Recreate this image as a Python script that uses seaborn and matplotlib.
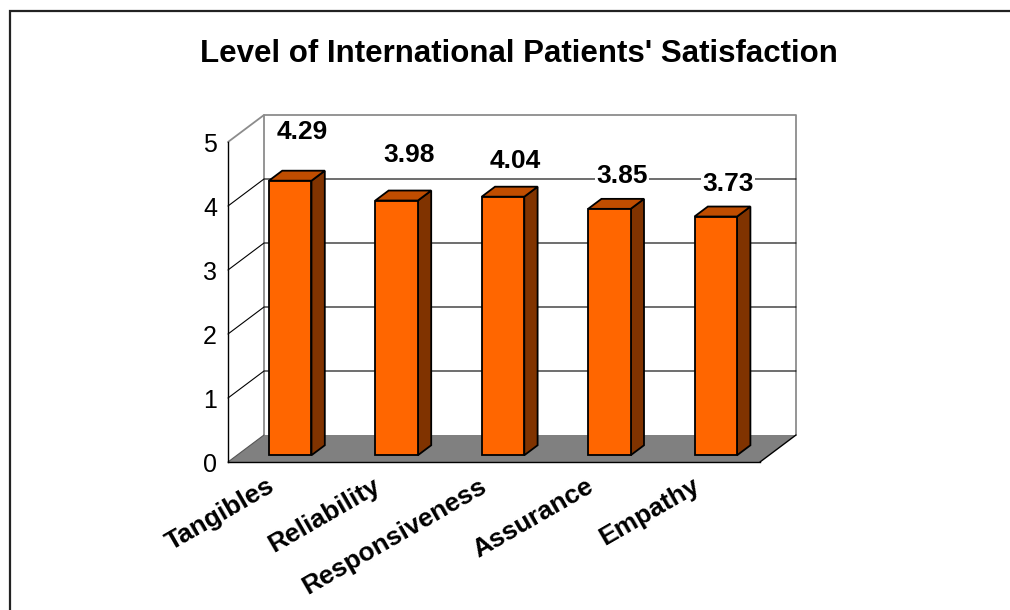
import numpy as np
import pandas as pd
import matplotlib
matplotlib.use('Agg')
import matplotlib.pyplot as plt
import seaborn as sns
from matplotlib.patches import Polygon, Rectangle
from matplotlib.transforms import ScaledTranslation

# data
categories = ['Tangibles', 'Reliability', 'Responsiveness', 'Assurance', 'Empathy']
scores = [4.29, 3.98, 4.04, 3.85, 3.73]
y_ticks = [0, 1, 2, 3, 4, 5]
title = "Level of International Patients' Satisfaction"

sns.set_theme(style='white')
plt.rcParams['font.family'] = ['Liberation Sans', 'DejaVu Sans']
plt.rcParams['text.color'] = 'black'
plt.rcParams['ytick.labelcolor'] = 'black'
plt.rcParams['xtick.labelcolor'] = 'black'

W, H, DPI = 1010, 610, 100
fig = plt.figure(figsize=(W / DPI, H / DPI), dpi=DPI)

# front plane of the 3d box, in pixels: x 228..760, y 462 (0) .. 142 (5)
ax = fig.add_axes([228 / W, (H - 462) / H, (760 - 228) / W, 320 / H])
ax.set_xlim(-0.5, 4.5)
ax.set_ylim(0, 5)
ax.set_facecolor('none')

# depth vector of the box (pixels, y up)
DEPTH = np.array([36.0, 27.0])
BAR_D0, BAR_D1 = 0.25, 0.62


def proj(x, y, d):
    p = ax.transData.transform((x, y)) + d * DEPTH
    return ax.transData.inverted().transform(p)


def poly(pts, **kw):
    ax.add_patch(Polygon([proj(*p) for p in pts], closed=True, clip_on=False, **kw))


def line(pts, **kw):
    xy = np.array([proj(*p) for p in pts])
    ax.plot(xy[:, 0], xy[:, 1], clip_on=False, **kw)


# walls and floor
poly([(-0.5, 0, 1), (4.5, 0, 1), (4.5, 5, 1), (-0.5, 5, 1)], facecolor='white', edgecolor='none', zorder=0)
poly([(-0.5, 0, 0), (4.5, 0, 0), (4.5, 0, 1), (-0.5, 0, 1)], facecolor='#808080', edgecolor='none', zorder=0.5)
line([(-0.5, 0, 1), (-0.5, 5, 1), (4.5, 5, 1), (4.5, 0, 1)], color='#8c8c8c', lw=1.3, zorder=0.6)
line([(-0.5, 5, 0), (-0.5, 5, 1)], color='#8c8c8c', lw=1.3, zorder=0.6)
for v in y_ticks[1:-1]:
    line([(-0.5, v, 0), (-0.5, v, 1), (4.5, v, 1)], color='black', lw=0.8, zorder=0.6)
line([(4.5, 0, 0), (4.5, 0, 1)], color='black', lw=1.0, zorder=0.7)
line([(-0.5, 0, 0), (-0.5, 0, 1)], color='#555555', lw=0.8, zorder=0.7)

# bars (front faces), shifted into the box
df = pd.DataFrame({'category': categories, 'score': scores})
sns.barplot(data=df, x='category', y='score', color='#FF6600', saturation=1, width=0.4,
            edgecolor='black', linewidth=1.3, ax=ax, zorder=3)
shift = ScaledTranslation(BAR_D0 * DEPTH[0] / DPI, BAR_D0 * DEPTH[1] / DPI, fig.dpi_scale_trans)
for bar in ax.patches:
    if isinstance(bar, Rectangle):
        bar.set_transform(ax.transData + shift)
        bar.set_clip_on(False)
        x0, w, h = bar.get_x(), bar.get_width(), bar.get_height()
        x1 = x0 + w
        # side face
        poly([(x1, 0, BAR_D0), (x1, 0, BAR_D1), (x1, h, BAR_D1), (x1, h, BAR_D0)],
             facecolor='#803300', edgecolor='black', lw=1.3, zorder=2.5)
        # top face
        poly([(x0, h, BAR_D0), (x1, h, BAR_D0), (x1, h, BAR_D1), (x0, h, BAR_D1)],
             facecolor='#C04D00', edgecolor='black', lw=1.3, zorder=2.5)

# value labels
label_off = [0.86, 0.82, 0.67, 0.62, 0.62]
for i, (v, o) in enumerate(zip(scores, label_off)):
    ax.text(i + 0.2, v + o, f'{v:.2f}', ha='center', va='center', fontsize=19, fontweight='bold',
            bbox=dict(facecolor='white', edgecolor='none', pad=1), zorder=5, clip_on=False)

# axes
sns.despine(ax=ax, top=True, right=True)
for s in ['left', 'bottom']:
    ax.spines[s].set_color('black')
    ax.spines[s].set_linewidth(1.0)
    ax.spines[s].set_zorder(4)
ax.set_yticks(y_ticks)
ax.set_yticklabels([str(t) for t in y_ticks])
ax.tick_params(axis='y', direction='out', length=5, width=1, color='black', labelsize=18, pad=3)
ax.set_xticks(np.arange(-0.5, 5, 1))
ax.set_xticklabels([])
ax.tick_params(axis='x', direction='out', length=6, width=1, color='black')
ax.set_xlabel('')
ax.set_ylabel('')
ax.grid(False)

lab_shift = ScaledTranslation(-15 / DPI, -12 / DPI, fig.dpi_scale_trans)
for i, c in enumerate(categories):
    ax.text(i, 0, c, rotation=30, rotation_mode='anchor', ha='right', va='top',
            fontsize=19, fontweight='bold', transform=ax.transData + lab_shift, clip_on=False)

fig.text(519 / W, 1 - 54 / H, title, ha='center', va='center', fontsize=22.5, fontweight='bold')

# outer frame (runs off the right and bottom edges)
fig.add_artist(Rectangle((10 / W, -0.1), 1.2, 1 - 11 / H + 0.1, transform=fig.transFigure,
                         fill=False, edgecolor='#222222', lw=1.6))

fig.savefig('out.png', dpi=DPI)
